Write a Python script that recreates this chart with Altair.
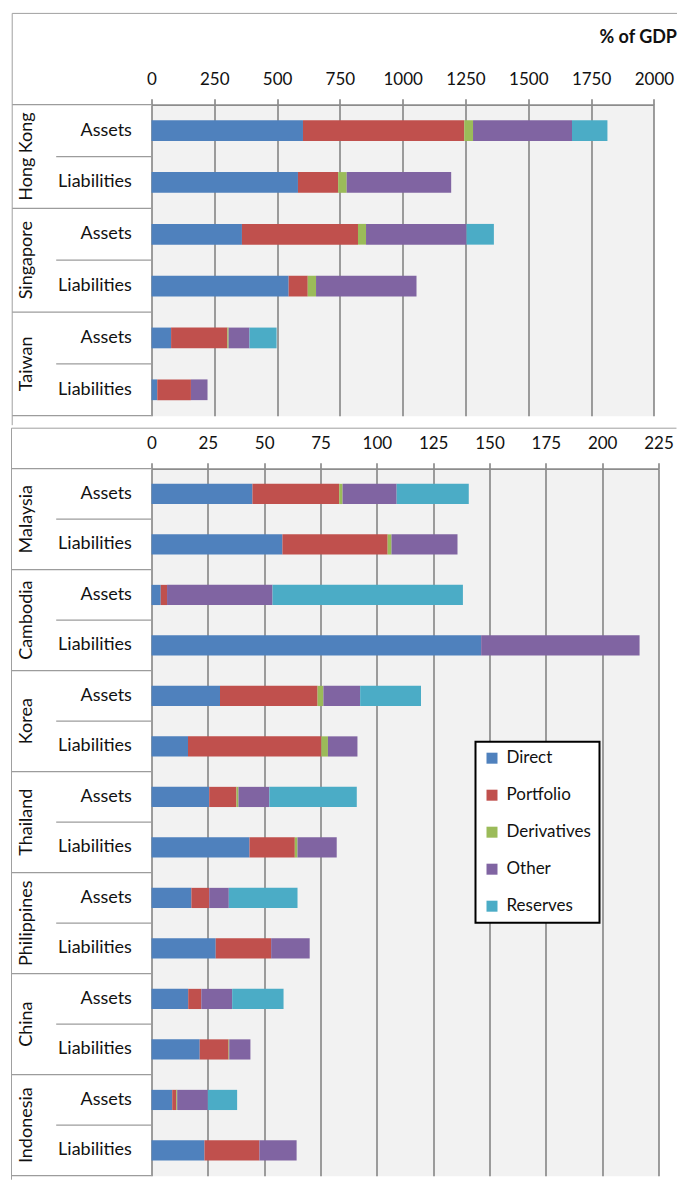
import altair as alt
import pandas as pd

# ---------------- data ----------------
sides = ["Assets", "Liabilities"]
components = ["Direct", "Portfolio", "Derivatives", "Other", "Reserves"]
colors = ["#4f81bd", "#c0504d", "#9bbb59", "#8064a2", "#4bacc6"]

# top panel rows: HK A, HK L, SG A, SG L, TW A, TW L
top_countries = ["Hong Kong", "Singapore", "Taiwan"]
top_direct = [603, 583, 360, 546, 78, 23]
top_portfolio = [642, 160, 462, 76, 224, 134]
top_derivatives = [35, 34, 32, 33, 5, 0]
top_other = [394, 416, 400, 400, 83, 66]
top_reserves = [141, 0, 109, 0, 108, 0]
top_ticks = [0, 250, 500, 750, 1000, 1250, 1500, 1750, 2000]

# bottom panel rows: MY, KH, KR, TH, PH, CN, ID (Assets, Liabilities each)
bot_countries = ["Malaysia", "Cambodia", "Korea", "Thailand", "Philippines", "China", "Indonesia"]
bot_direct = [44.8, 58.1, 4.1, 146.3, 30.4, 16.2, 25.6, 43.5, 17.7, 28.5, 16.3, 21.4, 9.2, 23.5]
bot_portfolio = [38.5, 46.7, 2.8, 0, 43.3, 59.2, 12.1, 20.1, 7.9, 24.6, 5.8, 12.8, 1.8, 24.4]
bot_derivatives = [1.5, 1.7, 0, 0, 2.6, 2.9, 0.9, 1.2, 0, 0, 0, 0.3, 0.4, 0]
bot_other = [24.0, 29.3, 46.8, 70.3, 16.3, 13.1, 13.7, 17.4, 8.7, 17.1, 13.7, 9.4, 13.6, 16.5]
bot_reserves = [32.0, 0, 84.5, 0, 27.0, 0, 38.8, 0, 30.5, 0, 22.8, 0, 13.0, 0]
bot_ticks = [0, 25, 50, 75, 100, 125, 150, 175, 200, 225]

FONT = "Lato"
GRID = "#8c8c8c"
BOX = "#9c9c9c"
TXT = "#111111"
one = pd.DataFrame({"a": [0]})


def build(countries, series, ticks, xmax, w, h, left, frame_top, frame_bottom, right, legend, extra):
    keys, rows, lab_rows = [], [], []
    for ci, c in enumerate(countries):
        for si, s in enumerate(sides):
            i = 2 * ci + si
            key = c + " | " + s
            keys.append(key)
            lab_rows.append({"row": key, "country": c, "side": s})
            for k, comp in enumerate(components):
                v = series[k][i]
                if v > 0:
                    rows.append({"row": key, "component": comp, "k": k, "value": v})
    df = pd.DataFrame(rows)
    lab = pd.DataFrame(lab_rows)
    assets = lab[lab.side == "Assets"]
    liabs = lab[lab.side == "Liabilities"]
    off = 0.3 * h / len(keys)  # distance from band bottom to row boundary

    ysc = alt.Scale(domain=keys, paddingInner=0.6, paddingOuter=0.3)
    y = alt.Y("row:N", scale=ysc, axis=None)
    yb = alt.Y("row:N", scale=ysc, axis=None, bandPosition=1)

    bars = alt.Chart(df).mark_bar().encode(
        x=alt.X(
            "value:Q",
            stack="zero",
            scale=alt.Scale(domain=[0, xmax], nice=False),
            axis=alt.Axis(
                orient="top", values=ticks, format="d", title=None,
                grid=True, gridColor=GRID, gridWidth=1.7,
                domainColor=GRID, domainWidth=1.7,
                tickColor=GRID, tickWidth=1.7, tickSize=6,
                labelFont=FONT, labelFontSize=17, labelColor=TXT,
                labelPadding=10, labelFlush=False,
            ),
        ),
        y=y,
        color=alt.Color(
            "component:N",
            scale=alt.Scale(domain=components, range=colors),
            legend=legend,
        ),
        order=alt.Order("k:Q", sort="ascending"),
    )

    side_txt = alt.Chart(lab).mark_text(
        align="right", baseline="middle", font=FONT, fontSize=18, color=TXT
    ).encode(x=alt.value(-19.6), y=y, text="side:N")

    country_txt = alt.Chart(assets).mark_text(
        align="center", baseline="middle", font=FONT, fontSize=18, color=TXT,
        angle=270, yOffset=off
    ).encode(x=alt.value(-124.6), y=yb, text="country:N")

    inner_lines = alt.Chart(assets).mark_rule(color=BOX, strokeWidth=1.3, yOffset=off).encode(
        y=yb, x=alt.value(-95.3), x2=alt.value(0)
    )
    group_lines = alt.Chart(liabs).mark_rule(color=BOX, strokeWidth=1.3, yOffset=off).encode(
        y=yb, x=alt.value(left), x2=alt.value(0)
    )
    top_box = alt.Chart(one).mark_rule(color=BOX, strokeWidth=1.3).encode(
        y=alt.value(0), x=alt.value(left), x2=alt.value(0)
    )
    frame_h = alt.Chart(one).mark_rule(color="#a0a0a0", strokeWidth=1).encode(
        y=alt.value(frame_top), x=alt.value(left), x2=alt.value(right)
    )
    frame_v = alt.Chart(one).mark_rule(color="#a0a0a0", strokeWidth=1).encode(
        x=alt.value(left), y=alt.value(frame_top), y2=alt.value(frame_bottom)
    )
    layers = [bars, side_txt, country_txt, inner_lines, group_lines, top_box, frame_h, frame_v] + extra
    return alt.layer(*layers).properties(width=w, height=h)


gdp = alt.Chart(one).mark_text(
    text="% of GDP", align="right", baseline="middle", font=FONT,
    fontSize=18, fontWeight="bold", color=TXT
).encode(x=alt.value(525.5), y=alt.value(-66.3))

top = build(
    top_countries,
    [top_direct, top_portfolio, top_derivatives, top_other, top_reserves],
    top_ticks, 2000, 502.4, 311, -139.3, -91.3, 320.5, 525.5, None, [gdp],
)

legend = alt.Legend(
    orient="none", legendX=324, legendY=273, title=None,
    symbolType="square", symbolSize=121, symbolStrokeWidth=0,
    labelFont=FONT, labelFontSize=17, labelColor=TXT, labelOffset=6,
    rowPadding=19, padding=8, fillColor="white", strokeColor="black",
)

bottom = build(
    bot_countries,
    [bot_direct, bot_portfolio, bot_derivatives, bot_other, bot_reserves],
    bot_ticks, 225, 507, 707, -140, -40.5, 711, 525, legend, [],
)

chart = (
    alt.vconcat(top, bottom, spacing=0)
    .resolve_scale(color="independent", x="independent", y="independent")
    .resolve_legend(color="independent")
    .properties(padding={"left": 9.5, "top": 11.7, "right": 0, "bottom": 0})
    .configure_view(fill="#f2f2f2", stroke="transparent")
    .configure_legend(strokeWidth=2)
)

chart.save("out.html", embed_options={"renderer": "svg", "actions": False})
